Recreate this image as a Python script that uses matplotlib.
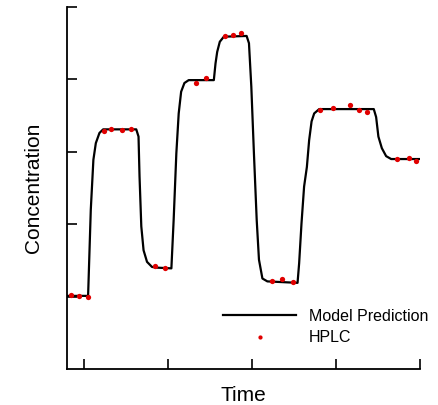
import matplotlib
matplotlib.use("Agg")
import matplotlib.pyplot as plt

plt.rcParams['font.family'] = ['Liberation Sans', 'DejaVu Sans']

# model prediction curve (time, concentration)
model_t = [8.00, 10.51, 10.83, 11.14, 11.43, 11.86, 12.30, 16.24, 16.51, 16.63,
           16.84, 17.11, 17.52, 18.11, 18.71, 20.42, 20.69, 21.01, 21.29, 21.58,
           21.97, 22.48, 25.47, 25.67, 25.87, 26.18, 26.66, 29.37, 29.65, 29.93,
           30.24, 30.57, 30.84, 31.25, 31.84, 35.43, 35.62, 35.90, 36.21, 36.54,
           36.81, 37.10, 37.41, 38.01, 44.50, 44.78, 45.05, 45.46, 45.97, 46.57,
           50.00]
model_c = [1.01, 1.01, 2.20, 2.89, 3.12, 3.26, 3.31, 3.31, 3.21, 2.66,
           1.97, 1.64, 1.48, 1.41, 1.40, 1.39, 2.06, 2.98, 3.53, 3.83,
           3.95, 3.99, 3.99, 4.22, 4.38, 4.52, 4.59, 4.60, 4.50, 3.90,
           2.98, 2.06, 1.51, 1.25, 1.21, 1.19, 1.46, 2.01, 2.52, 2.79,
           3.16, 3.42, 3.53, 3.59, 3.59, 3.48, 3.21, 3.05, 2.94, 2.90,
           2.90]

# HPLC measurements
hplc_t = [8.48, 9.43, 10.45, 12.42, 13.22, 14.53, 15.61, 18.42, 19.62, 23.37,
          24.51, 26.75, 27.74, 28.66, 32.36, 33.55, 34.87, 38.13, 39.64, 41.67,
          42.78, 43.70, 47.28, 48.68, 49.47]
hplc_c = [1.02, 1.01, 0.99, 3.29, 3.31, 3.30, 3.31, 1.42, 1.40, 3.95,
          4.02, 4.60, 4.62, 4.64, 1.22, 1.24, 1.20, 3.58, 3.60, 3.64,
          3.58, 3.55, 2.90, 2.92, 2.87]

time_ticks = [10, 20, 30, 40, 50]
conc_ticks = [1, 2, 3, 4, 5]

fig = plt.figure(figsize=(4.39, 4.05), dpi=100)
ax = fig.add_axes([67 / 439, 36 / 405, 353 / 439, 362 / 405])

ax.plot(model_t, model_c, color='black', lw=1.6, solid_joinstyle='round',
        label='Model Prediction', zorder=2)
ax.plot(hplc_t, hplc_c, 'o', color='#e00000', ms=3.8, mec='none',
        label='HPLC', zorder=3)

ax.set_xlim(8, 50)
ax.set_ylim(0, 5)
ax.set_xticks(time_ticks)
ax.set_yticks(conc_ticks)
ax.set_xticklabels([])
ax.set_yticklabels([])
ax.tick_params(direction='in', length=7, width=1.2)
for side in ('top', 'right'):
    ax.spines[side].set_visible(False)
for side in ('left', 'bottom'):
    ax.spines[side].set_linewidth(1.3)

ax.set_xlabel('Time', fontsize=15, labelpad=9)
ax.set_ylabel('Concentration', fontsize=15, labelpad=14)

ax.legend(loc='upper left', bbox_to_anchor=(223 / 439, 1 - 309 / 405),
          bbox_transform=fig.transFigure, frameon=False, fontsize=11.5,
          handlelength=4.6, handletextpad=0.8, labelspacing=0.4,
          borderpad=0, borderaxespad=0, markerscale=0.8)

fig.savefig('out.png', dpi=100)
